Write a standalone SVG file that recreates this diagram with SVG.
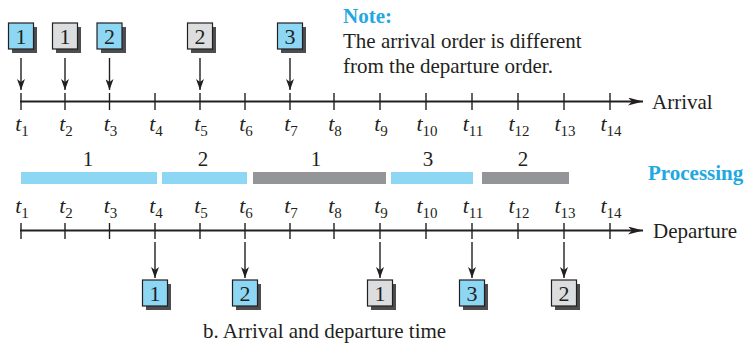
<svg xmlns="http://www.w3.org/2000/svg" width="745" height="351" viewBox="0 0 745 351">
<style>
  text { font-family: "Liberation Serif", "Times New Roman", serif; fill: #231f20; }
  .lbl { font-size: 21px; }
  .t { font-size: 22px; font-style: italic; text-anchor: middle; }
  .sub { font-size: 15px; font-style: normal; }
  .blue { fill: #1fa8e1; font-weight: bold; font-size: 21px; }
  .axis { stroke: #231f20; stroke-width: 2; fill: none; }
  .tick { stroke: #231f20; stroke-width: 1.4; }
  .arr { stroke: #231f20; stroke-width: 1.4; fill: none; }
  .pb { fill: #8dd7f5; }
  .pg { fill: #939598; }
  .bb { fill: #8dd7f5; stroke: #231f20; stroke-width: 1.2; }
  .bg { fill: #dcdddf; stroke: #231f20; stroke-width: 1.2; }
  .sh { fill: #4d4d4f; }
  .num { font-size: 22px; text-anchor: middle; }
  .bar { font-size: 21px; text-anchor: middle; }
</style>
<defs>
  <marker id="ah" markerWidth="16" markerHeight="8" refX="15" refY="4" orient="auto" markerUnits="userSpaceOnUse">
    <path d="M0,0 L15,4 L0,8 L4,4 Z" fill="#231f20"/>
  </marker>
  <marker id="av" markerWidth="12" markerHeight="8" refX="11" refY="4" orient="auto" markerUnits="userSpaceOnUse">
    <path d="M0,0 L11,4 L0,8 L3,4 Z" fill="#231f20"/>
  </marker>
  <filter id="blur" x="-20%" y="-20%" width="140%" height="140%">
    <feGaussianBlur stdDeviation="0.6"/>
  </filter>
</defs>

<!-- Note -->
<g id="note">
  <text x="343" y="23" class="blue">Note:</text>
  <text x="343" y="48" class="lbl">The arrival order is different</text>
  <text x="343" y="73" class="lbl">from the departure order.</text>
</g>

<!-- Arrival axis -->
<g id="arrival-axis">
  <line x1="20" y1="101.5" x2="643" y2="101.5" class="axis" marker-end="url(#ah)"/>
  <g class="tick">
    <line x1="21" y1="93" x2="21" y2="110"/>
    <line x1="65" y1="93" x2="65" y2="110"/>
    <line x1="109.5" y1="93" x2="109.5" y2="110"/>
    <line x1="155" y1="93" x2="155" y2="110"/>
    <line x1="200" y1="93" x2="200" y2="110"/>
    <line x1="245" y1="93" x2="245" y2="110"/>
    <line x1="290" y1="93" x2="290" y2="110"/>
    <line x1="334" y1="93" x2="334" y2="110"/>
    <line x1="380" y1="93" x2="380" y2="110"/>
    <line x1="426" y1="93" x2="426" y2="110"/>
    <line x1="472" y1="93" x2="472" y2="110"/>
    <line x1="518" y1="93" x2="518" y2="110"/>
    <line x1="564" y1="93" x2="564" y2="110"/>
    <line x1="610" y1="93" x2="610" y2="110"/>
  </g>
  <text x="652" y="109" class="lbl">Arrival</text>
  <text x="22" y="131" class="t">t<tspan class="sub" dy="5">1</tspan></text>
  <text x="66" y="131" class="t">t<tspan class="sub" dy="5">2</tspan></text>
  <text x="110.5" y="131" class="t">t<tspan class="sub" dy="5">3</tspan></text>
  <text x="156" y="131" class="t">t<tspan class="sub" dy="5">4</tspan></text>
  <text x="201" y="131" class="t">t<tspan class="sub" dy="5">5</tspan></text>
  <text x="246" y="131" class="t">t<tspan class="sub" dy="5">6</tspan></text>
  <text x="291" y="131" class="t">t<tspan class="sub" dy="5">7</tspan></text>
  <text x="335" y="131" class="t">t<tspan class="sub" dy="5">8</tspan></text>
  <text x="381" y="131" class="t">t<tspan class="sub" dy="5">9</tspan></text>
  <text x="427" y="131" class="t">t<tspan class="sub" dy="5">10</tspan></text>
  <text x="473" y="131" class="t">t<tspan class="sub" dy="5">11</tspan></text>
  <text x="519" y="131" class="t">t<tspan class="sub" dy="5">12</tspan></text>
  <text x="565" y="131" class="t">t<tspan class="sub" dy="5">13</tspan></text>
  <text x="611" y="131" class="t">t<tspan class="sub" dy="5">14</tspan></text>
</g>

<!-- Arrival packets -->
<g id="arr-1">
  <rect x="12" y="27" width="25" height="26" class="sh" filter="url(#blur)"/>
  <rect x="8.5" y="23" width="25" height="26" class="bb"/>
  <text x="21" y="43.5" class="num">1</text>
</g>
<g id="arr-2">
  <rect x="56" y="27" width="25" height="26" class="sh" filter="url(#blur)"/>
  <rect x="52.5" y="23" width="25" height="26" class="bg"/>
  <text x="65" y="43.5" class="num">1</text>
</g>
<g id="arr-3">
  <rect x="101" y="27" width="25" height="26" class="sh" filter="url(#blur)"/>
  <rect x="97" y="23" width="25" height="26" class="bb"/>
  <text x="109.5" y="43.5" class="num">2</text>
</g>
<g id="arr-4">
  <rect x="191" y="27" width="25" height="26" class="sh" filter="url(#blur)"/>
  <rect x="187.5" y="23" width="25" height="26" class="bg"/>
  <text x="200" y="43.5" class="num">2</text>
</g>
<g id="arr-5">
  <rect x="281" y="27" width="25" height="26" class="sh" filter="url(#blur)"/>
  <rect x="277.5" y="23" width="25" height="26" class="bb"/>
  <text x="290" y="43.5" class="num">3</text>
</g>

<!-- Processing -->
<g id="processing">
  <rect x="21" y="172" width="136" height="12" class="pb"/>
  <rect x="162" y="172" width="85" height="12" class="pb"/>
  <rect x="253" y="172" width="133" height="12" class="pg"/>
  <rect x="391" y="172" width="82" height="12" class="pb"/>
  <rect x="482" y="172" width="87" height="12" class="pg"/>
  <text x="88" y="166" class="bar">1</text>
  <text x="203" y="166" class="bar">2</text>
  <text x="316" y="166" class="bar">1</text>
  <text x="428" y="166" class="bar">3</text>
  <text x="523" y="166" class="bar">2</text>
  <text x="648" y="180" class="blue">Processing</text>
</g>

<!-- Departure axis -->
<g id="departure-axis">
  <text x="22" y="213" class="t">t<tspan class="sub" dy="5">1</tspan></text>
  <text x="66" y="213" class="t">t<tspan class="sub" dy="5">2</tspan></text>
  <text x="110.5" y="213" class="t">t<tspan class="sub" dy="5">3</tspan></text>
  <text x="156" y="213" class="t">t<tspan class="sub" dy="5">4</tspan></text>
  <text x="201" y="213" class="t">t<tspan class="sub" dy="5">5</tspan></text>
  <text x="246" y="213" class="t">t<tspan class="sub" dy="5">6</tspan></text>
  <text x="291" y="213" class="t">t<tspan class="sub" dy="5">7</tspan></text>
  <text x="335" y="213" class="t">t<tspan class="sub" dy="5">8</tspan></text>
  <text x="381" y="213" class="t">t<tspan class="sub" dy="5">9</tspan></text>
  <text x="427" y="213" class="t">t<tspan class="sub" dy="5">10</tspan></text>
  <text x="473" y="213" class="t">t<tspan class="sub" dy="5">11</tspan></text>
  <text x="519" y="213" class="t">t<tspan class="sub" dy="5">12</tspan></text>
  <text x="565" y="213" class="t">t<tspan class="sub" dy="5">13</tspan></text>
  <text x="611" y="213" class="t">t<tspan class="sub" dy="5">14</tspan></text>
  <line x1="20" y1="230.5" x2="643" y2="230.5" class="axis" marker-end="url(#ah)"/>
  <g class="tick">
    <line x1="21" y1="223" x2="21" y2="239"/>
    <line x1="65" y1="223" x2="65" y2="239"/>
    <line x1="109.5" y1="223" x2="109.5" y2="239"/>
    <line x1="155" y1="223" x2="155" y2="239"/>
    <line x1="200" y1="223" x2="200" y2="239"/>
    <line x1="245" y1="223" x2="245" y2="239"/>
    <line x1="290" y1="223" x2="290" y2="239"/>
    <line x1="334" y1="223" x2="334" y2="239"/>
    <line x1="380" y1="223" x2="380" y2="239"/>
    <line x1="426" y1="223" x2="426" y2="239"/>
    <line x1="472" y1="223" x2="472" y2="239"/>
    <line x1="518" y1="223" x2="518" y2="239"/>
    <line x1="564" y1="223" x2="564" y2="239"/>
    <line x1="610" y1="223" x2="610" y2="239"/>
  </g>
  <text x="653" y="238" class="lbl">Departure</text>
</g>

<!-- Departure packets -->
<g id="dep-1">
  <rect x="146" y="284" width="25" height="26" class="sh" filter="url(#blur)"/>
  <rect x="142.5" y="280" width="25" height="26" class="bb"/>
  <text x="155" y="300.5" class="num">1</text>
</g>
<g id="dep-2">
  <rect x="236" y="284" width="25" height="26" class="sh" filter="url(#blur)"/>
  <rect x="232.5" y="280" width="25" height="26" class="bb"/>
  <text x="245" y="300.5" class="num">2</text>
</g>
<g id="dep-3">
  <rect x="371" y="284" width="25" height="26" class="sh" filter="url(#blur)"/>
  <rect x="367.5" y="280" width="25" height="26" class="bg"/>
  <text x="380" y="300.5" class="num">1</text>
</g>
<g id="dep-4">
  <rect x="463" y="284" width="25" height="26" class="sh" filter="url(#blur)"/>
  <rect x="459.5" y="280" width="25" height="26" class="bb"/>
  <text x="472" y="300.5" class="num">3</text>
</g>
<g id="dep-5">
  <rect x="555" y="284" width="25" height="26" class="sh" filter="url(#blur)"/>
  <rect x="551.5" y="280" width="25" height="26" class="bg"/>
  <text x="564" y="300.5" class="num">2</text>
</g>

<!-- Connectors -->
<g id="connectors">
  <line x1="21" y1="58" x2="21" y2="90" class="arr" marker-end="url(#av)"/>
  <line x1="65" y1="58" x2="65" y2="90" class="arr" marker-end="url(#av)"/>
  <line x1="109.5" y1="58" x2="109.5" y2="90" class="arr" marker-end="url(#av)"/>
  <line x1="200" y1="58" x2="200" y2="90" class="arr" marker-end="url(#av)"/>
  <line x1="290" y1="58" x2="290" y2="90" class="arr" marker-end="url(#av)"/>
  <line x1="155" y1="242" x2="155" y2="278" class="arr" marker-end="url(#av)"/>
  <line x1="245" y1="242" x2="245" y2="278" class="arr" marker-end="url(#av)"/>
  <line x1="380" y1="242" x2="380" y2="278" class="arr" marker-end="url(#av)"/>
  <line x1="472" y1="242" x2="472" y2="278" class="arr" marker-end="url(#av)"/>
  <line x1="564" y1="242" x2="564" y2="278" class="arr" marker-end="url(#av)"/>
</g>

<text x="203" y="338" class="lbl">b. Arrival and departure time</text>
</svg>
